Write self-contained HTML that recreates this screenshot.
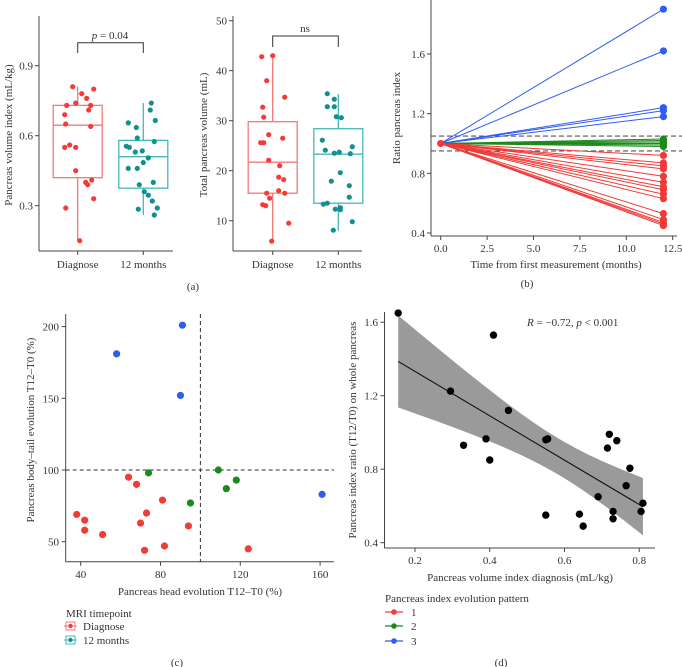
<!DOCTYPE html>
<html><head><meta charset="utf-8"><style>
html,body{margin:0;padding:0;background:#fff;}
svg{display:block;font-family:"Liberation Serif",serif;}
text{fill:#333;}
</style></head><body>
<svg id="fig" width="682" height="667" viewBox="0 0 682 667" xmlns="http://www.w3.org/2000/svg"></svg>
<script>
// ---------- DATA ----------
// Panel a1: pancreas volume index (offset px, value)
const a1Diag = [[-5,0.81],[4,0.78],[16,0.80],[-11,0.73],[-2,0.74],[9,0.76],[13,0.73],[11,0.71],[-13,0.69],[-12,0.65],[13,0.64],[-8,0.56],[-13,0.55],[-2,0.55],[-2,0.45],[8,0.40],[10,0.39],[14,0.41],[16,0.33],[-12,0.29],[2,0.15]];
const a1M12 = [[8,0.74],[7,0.71],[-15,0.655],[-7,0.635],[12,0.665],[-6,0.59],[11,0.575],[-17,0.555],[-14,0.55],[-8,0.53],[-1,0.535],[5,0.505],[0,0.485],[-15,0.46],[-6,0.46],[-4,0.39],[10,0.40],[1,0.36],[5,0.345],[9,0.32],[-5,0.285],[14,0.29],[11,0.26]];
const a1Box = [[0.15,0.42,0.645,0.73,0.81],[0.26,0.375,0.51,0.58,0.74]];
const a1Ticks = [0.3,0.6,0.9];
// Panel a2: total pancreas volume
const a2Diag = [[-11,42.8],[0,43],[-6,38],[12,34.7],[-10,32.7],[-9,30.7],[-4,27.2],[10,26.5],[-12,25.6],[-9,25.6],[-4,22.1],[7,21],[6,18.7],[11,18.2],[6,16],[12,15.5],[-6,15.5],[-3,14.5],[-10,13.2],[-7,13],[16,9.5],[-1,5.9]];
const a2M12 = [[-11,35.4],[-4,34.3],[-11,32.8],[-4,32.8],[-2,30.8],[3,30.6],[-16,26.1],[-13,24.1],[14,24.8],[-4,23.5],[1,23.7],[12,23.4],[2,19.6],[-7,17.9],[11,17],[11,14.7],[-11,13.5],[-15,13.3],[-3,12.3],[2,12.6],[2,12.2],[14,9.8],[-5,8.1]];
const a2Box = [[6,15.5,21.7,29.8,43],[8,13.5,23.3,28.4,35.3]];
const a2Ticks = [10,20,30,40,50];
const groups = ["Diagnose","12 months"];
// Panel b: ratio at 12 months per patient
const bBlue = [1.9,1.62,1.24,1.22,1.18];
const bGreen = [1.03,1.02,1.01,1.0,0.99,0.98];
const bRed = [0.92,0.87,0.85,0.83,0.78,0.74,0.71,0.69,0.66,0.63,0.53,0.49,0.47,0.46,0.45];
const bXTicks = [0,2.5,5,7.5,10,12.5];
const bYTicks = [0.4,0.8,1.2,1.6];
// Panel c: head vs body-tail evolution
const cX = [58,90,91,161,74,109,113,118,95,38,42,42,51,64,68,70,73,72,81,82,94,124];
const cY = [181,152,201,83,98,100,87,93,77,69,65,58,55,95,90,63,70,44,79,47,61,45];
const cGroup = [3,3,3,3,2,2,2,2,2,1,1,1,1,1,1,1,1,1,1,1,1,1];
const cXTicks = [40,80,120,160];
const cYTicks = [50,100,150,200];
// Panel d: index diagnosis vs ratio
const dX = [0.155,0.295,0.33,0.39,0.40,0.41,0.45,0.55,0.55,0.555,0.64,0.65,0.69,0.715,0.72,0.73,0.73,0.74,0.765,0.775,0.805,0.81];
const dY = [1.65,1.225,0.93,0.965,0.85,1.53,1.12,0.55,0.96,0.965,0.555,0.49,0.65,0.915,0.99,0.53,0.57,0.955,0.71,0.805,0.57,0.615];
const dXTicks = [0.2,0.4,0.6,0.8];
const dYTicks = [0.4,0.8,1.2,1.6];

// ---------- helpers ----------
const svg = document.getElementById('fig');
const NS = "http://www.w3.org/2000/svg";
function el(tag, attrs, parent){ const e=document.createElementNS(NS,tag); for(const k in attrs) e.setAttribute(k,attrs[k]); (parent||svg).appendChild(e); return e; }
function txt(s, x, y, attrs, parent){ const t=el('text',Object.assign({x:x,y:y,'font-size':11},attrs||{}),parent); t.textContent=s; return t; }
const RED="#f53b3a", TEAL="#11908f", REDL="#f47a78", TEALL="#45b8b8", BLUE="#2f5cf2", GREEN="#1b8a1b", AX="#444";

// ---------- Panel a1 ----------
(function(){
  const g = el('g',{});
  
  
  const ys = v => 135.7 - (v-0.6)*233.3;
  const xs = i => [77.7,143.3][i];
  el('line',{x1:39,y1:16,x2:39,y2:251,stroke:AX,'stroke-width':1},g);
  el('line',{x1:39,y1:251,x2:173,y2:251,stroke:AX,'stroke-width':1},g);
  a1Ticks.forEach(t=>{ el('line',{x1:35,x2:39,y1:ys(t),y2:ys(t),stroke:AX},g); const l=txt(t.toFixed(1),33,ys(t)+4,{'text-anchor':'end'},g);   });
  groups.forEach((n,i)=>{ el('line',{x1:xs(i),x2:xs(i),y1:251,y2:255,stroke:AX},g); const l=txt(n,xs(i),268,{'text-anchor':'middle'},g);   });
  const yt = txt('Pancreas volume index (mL/kg)',0,0,{'text-anchor':'middle',transform:'translate(12,135) rotate(-90)'},g);
   
  a1Box.forEach((b,i)=>{ const c=i?TEALL:REDL;
    const bx = el('g',{},g);  
    el('line',{x1:xs(i),x2:xs(i),y1:ys(b[0]),y2:ys(b[1]),stroke:c,'stroke-width':1.3},bx);
    el('line',{x1:xs(i),x2:xs(i),y1:ys(b[3]),y2:ys(b[4]),stroke:c,'stroke-width':1.3},bx);
    el('rect',{x:xs(i)-24.5,y:ys(b[3]),width:49,height:ys(b[1])-ys(b[3]),fill:'none',stroke:c,'stroke-width':1.3},bx);
    el('line',{x1:xs(i)-24.5,x2:xs(i)+24.5,y1:ys(b[2]),y2:ys(b[2]),stroke:c,'stroke-width':1.3},bx);
  });
  [a1Diag,a1M12].forEach((arr,i)=>arr.forEach(p=>{ const c=el('circle',{cx:xs(i)+p[0],cy:ys(p[1]),r:2.6,fill:i?TEAL:RED},g);   }));
  el('path',{d:`M${xs(0)} 53 V42.7 H${xs(1)} V53`,fill:'none',stroke:'#333','stroke-width':1},g);
  const p=el('text',{x:110,y:39,'font-size':11,'text-anchor':'middle'},g); p.innerHTML='<tspan font-style="italic">p</tspan> = 0.04';
   
})();

// ---------- Panel a2 ----------
(function(){
  const g = el('g',{});
  
  
  const ys = v => 220.7 - (v-10)*5;
  const xs = i => [272.7,338.3][i];
  el('line',{x1:233,y1:16,x2:233,y2:251,stroke:AX},g);
  el('line',{x1:233,y1:251,x2:362,y2:251,stroke:AX},g);
  a2Ticks.forEach(t=>{ el('line',{x1:229,x2:233,y1:ys(t),y2:ys(t),stroke:AX},g); const l=txt(String(t),227,ys(t)+4,{'text-anchor':'end'},g);   });
  groups.forEach((n,i)=>{ el('line',{x1:xs(i),x2:xs(i),y1:251,y2:255,stroke:AX},g); const l=txt(n,xs(i),268,{'text-anchor':'middle'},g);   });
  const yt = txt('Total pancreas volume (mL)',0,0,{'text-anchor':'middle',transform:'translate(207,135) rotate(-90)'},g);
   
  a2Box.forEach((b,i)=>{ const c=i?TEALL:REDL;
    const bx = el('g',{},g);  
    el('line',{x1:xs(i),x2:xs(i),y1:ys(b[0]),y2:ys(b[1]),stroke:c,'stroke-width':1.3},bx);
    el('line',{x1:xs(i),x2:xs(i),y1:ys(b[3]),y2:ys(b[4]),stroke:c,'stroke-width':1.3},bx);
    el('rect',{x:xs(i)-24.5,y:ys(b[3]),width:49,height:ys(b[1])-ys(b[3]),fill:'none',stroke:c,'stroke-width':1.3},bx);
    el('line',{x1:xs(i)-24.5,x2:xs(i)+24.5,y1:ys(b[2]),y2:ys(b[2]),stroke:c,'stroke-width':1.3},bx);
  });
  [a2Diag,a2M12].forEach((arr,i)=>arr.forEach(p=>{ const c=el('circle',{cx:xs(i)+p[0],cy:ys(p[1]),r:2.6,fill:i?TEAL:RED},g);   }));
  el('path',{d:`M${xs(0)} 47 V36 H${xs(1)} V47`,fill:'none',stroke:'#333','stroke-width':1},g);
  const p=txt('ns',305,32,{'text-anchor':'middle'},g);
   
  const cap=txt('(a)',193,290,{'text-anchor':'middle'});
   
})();

// ---------- Panel b ----------
(function(){
  const g = el('g',{});
  
  
  const xs = v => 440.7 + v*18.56;
  const ys = v => 233 - (v-0.4)*149.2;
  el('line',{x1:431,y1:0,x2:431,y2:236,stroke:AX},g);
  el('line',{x1:431,y1:236,x2:677,y2:236,stroke:AX},g);
  bXTicks.forEach(t=>{ el('line',{x1:xs(t),x2:xs(t),y1:236,y2:240,stroke:AX},g); const l=txt(t.toFixed(1),xs(t),252,{'text-anchor':'middle'},g);   });
  bYTicks.forEach(t=>{ el('line',{x1:427,x2:431,y1:ys(t),y2:ys(t),stroke:AX},g); const l=txt(t.toFixed(1),425,ys(t)+4,{'text-anchor':'end'},g);   });
  [1.05,0.95].forEach(v=>{ const l=el('line',{x1:431,x2:682,y1:ys(v),y2:ys(v),stroke:'#555','stroke-dasharray':'5,3','stroke-width':1.1},g);   });
  [[bBlue,BLUE],[bGreen,GREEN],[bRed,"#f03a38"]].forEach(([arr,c])=>arr.forEach(v=>{
    const ln=el('line',{x1:xs(0),y1:ys(1),x2:xs(12),y2:ys(v),stroke:c,'stroke-width':1},g);
     
    const pt=el('circle',{cx:xs(12),cy:ys(v),r:3.6,fill:c},g);
     
  }));
  el('circle',{cx:xs(0),cy:ys(1),r:3.6,fill:"#f03a38"},g);
  const xt=txt('Time from first measurement (months)',556,268,{'text-anchor':'middle'},g);
   
  const yt=txt('Ratio pancreas index',0,0,{'text-anchor':'middle',transform:'translate(400,118) rotate(-90)'},g);
   
  const cap=txt('(b)',527,287,{'text-anchor':'middle'});
   
})();

// ---------- Panel c ----------
(function(){
  const g = el('g',{});
  
  
  const xs = v => 80.7 + (v-40)*1.995;
  const ys = v => 470 - (v-100)*1.434;
  el('line',{x1:65.7,y1:314,x2:65.7,y2:561.7,stroke:AX},g);
  el('line',{x1:65.7,y1:561.7,x2:334,y2:561.7,stroke:AX},g);
  cXTicks.forEach(t=>{ el('line',{x1:xs(t),x2:xs(t),y1:561.7,y2:565.7,stroke:AX},g); const l=txt(String(t),xs(t),578,{'text-anchor':'middle'},g);   });
  cYTicks.forEach(t=>{ el('line',{x1:61.7,x2:65.7,y1:ys(t),y2:ys(t),stroke:AX},g); const l=txt(String(t),59,ys(t)+4,{'text-anchor':'end'},g);   });
  const v=el('line',{x1:xs(100),x2:xs(100),y1:314,y2:561.7,stroke:'#333','stroke-dasharray':'4,3'},g);
   
  const h=el('line',{x1:65.7,x2:334,y1:ys(100),y2:ys(100),stroke:'#333','stroke-dasharray':'4,3'},g);
   
  const cols={1:RED,2:GREEN,3:BLUE};
  cX.forEach((x,i)=>{ const c=el('circle',{cx:xs(x),cy:ys(cY[i]),r:3.6,fill:cols[cGroup[i]]},g);   });
  const xt=txt('Pancreas head evolution T12–T0 (%)',200,595,{'text-anchor':'middle'},g);
   
  const yt=txt('Pancreas body–tail evolution T12–T0 (%)',0,0,{'text-anchor':'middle',transform:'translate(34,430) rotate(-90)'},g);
   
  const lg=el('g',{});
   
  txt('MRI timepoint',66,617,{},lg);
  [["Diagnose",RED,"#f47a78",630],["12 months",TEAL,TEALL,644]].forEach(([n,c,lc,y])=>{
    const e=el('g',{},lg);  
    el('rect',{x:66,y:y-8,width:9,height:8,fill:'none',stroke:lc,'stroke-width':1},e);
    el('line',{x1:64,x2:77,y1:y-4,y2:y-4,stroke:lc},e);
    el('circle',{cx:70.5,cy:y-4,r:2.2,fill:c},e);
    txt(n,83,y,{},e);
  });
  const cap=txt('(c)',177,666,{'text-anchor':'middle'});
   
})();

// ---------- Panel d ----------
(function(){
  const g = el('g',{});
  
  
  const xs = v => 415 + (v-0.2)*373.7;
  const ys = v => 395.7 - (v-1.2)*183.7;
  // regression fit
  const n=dX.length, mx=dX.reduce((a,b)=>a+b)/n, my=dY.reduce((a,b)=>a+b)/n;
  let sxx=0,sxy=0; dX.forEach((x,i)=>{sxx+=(x-mx)**2; sxy+=(x-mx)*(dY[i]-my);});
  const b1=sxy/sxx, b0=my-b1*mx;
  let sse=0; dX.forEach((x,i)=>{sse+=(dY[i]-b0-b1*x)**2;});
  const s=Math.sqrt(sse/(n-2)), tq=2.086;
  const x0=Math.min(...dX), x1=Math.max(...dX);
  const up=[],lo=[];
  for(let k=0;k<=40;k++){ const x=x0+(x1-x0)*k/40, f=b0+b1*x, hw=tq*s*Math.sqrt(1/n+(x-mx)**2/sxx); up.push([xs(x),ys(f+hw)]); lo.push([xs(x),ys(f-hw)]); }
  const band=el('path',{d:'M'+up.map(p=>p.join(' ')).join(' L')+' L'+lo.reverse().map(p=>p.join(' ')).join(' L')+'Z',fill:'#9a9a9a'},g);
   
  const rl=el('line',{x1:xs(x0),y1:ys(b0+b1*x0),x2:xs(x1),y2:ys(b0+b1*x1),stroke:'#111','stroke-width':1.1},g);
   
  el('line',{x1:384.5,y1:312,x2:384.5,y2:548,stroke:AX},g);
  el('line',{x1:384.5,y1:548,x2:655,y2:548,stroke:AX},g);
  dXTicks.forEach(t=>{ el('line',{x1:xs(t),x2:xs(t),y1:548,y2:552,stroke:AX},g); const l=txt(t.toFixed(1),xs(t),564,{'text-anchor':'middle'},g);   });
  dYTicks.forEach(t=>{ el('line',{x1:380.5,x2:384.5,y1:ys(t),y2:ys(t),stroke:AX},g); const l=txt(t.toFixed(1),378,ys(t)+4,{'text-anchor':'end'},g);   });
  dX.forEach((x,i)=>{ const c=el('circle',{cx:xs(x),cy:ys(dY[i]),r:3.7,fill:'#000'},g);   });
  const r=el('text',{x:527,y:326,'font-size':11},g); r.innerHTML='<tspan font-style="italic">R</tspan> = −0.72, <tspan font-style="italic">p</tspan> &lt; 0.001';
   
  const xt=txt('Pancreas volume index diagnosis (mL/kg)',520,581,{'text-anchor':'middle'},g);
   
  const yt=txt('Pancreas index ratio (T12/T0) on whole pancreas',0,0,{'text-anchor':'middle',transform:'translate(356,430) rotate(-90)'},g);
   
  const lg=el('g',{});
   
  txt('Pancreas index evolution pattern',385,602,{},lg);
  [["1",RED,616],["2",GREEN,630],["3",BLUE,645]].forEach(([n,c,y])=>{
    const e=el('g',{},lg);  
    el('line',{x1:385,x2:403,y1:y-4,y2:y-4,stroke:c,'stroke-width':1.2},e);
    el('circle',{cx:394,cy:y-4,r:2.8,fill:c},e);
    txt(n,411,y,{},e);
  });
  const cap=txt('(d)',501,666,{'text-anchor':'middle'});
   
})();
</script>
</body></html>
